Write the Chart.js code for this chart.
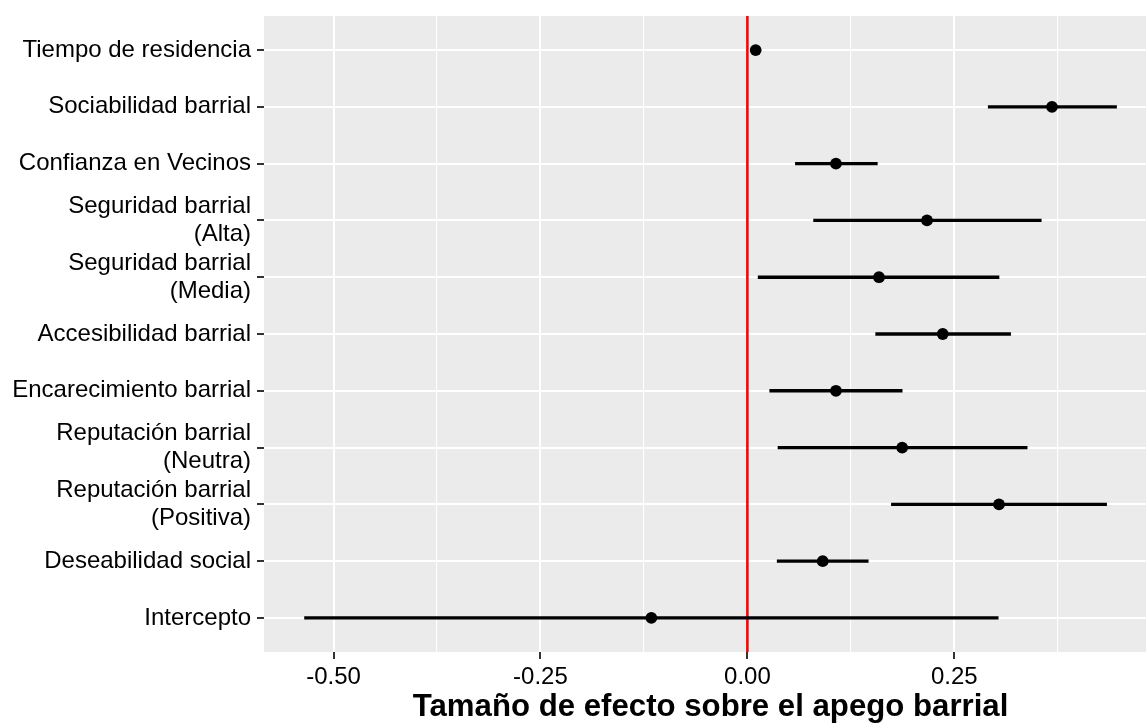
<!DOCTYPE html>
<html>
<head>
<meta charset="utf-8">
<title>Tamaño de efecto sobre el apego barrial</title>
<script src="https://cdn.jsdelivr.net/npm/chart.js@4/dist/chart.umd.min.js"></script>
<style>
  html, body { margin: 0; padding: 0; background: #fff; overflow: hidden; }
  #wrap { width: 1163px; height: 723px; position: relative; }
</style>
</head>
<body>
<div id="wrap"><canvas id="efectos"></canvas></div>
<script>
// Predictors, top to bottom
const categories = [
    ['Tiempo de residencia'],
    ['Sociabilidad barrial'],
    ['Confianza en Vecinos'],
    ['Seguridad barrial', '(Alta)'],
    ['Seguridad barrial', '(Media)'],
    ['Accesibilidad barrial'],
    ['Encarecimiento barrial'],
    ['Reputación barrial', '(Neutra)'],
    ['Reputación barrial', '(Positiva)'],
    ['Deseabilidad social'],
    ['Intercepto']
];

// Point estimates and confidence limits
const estimates = [0.010, 0.368, 0.107, 0.217, 0.159, 0.236, 0.107, 0.187, 0.304, 0.091, -0.116];
const ciLow     = [0.006, 0.291, 0.058, 0.080, 0.013, 0.155, 0.027, 0.037, 0.174, 0.036, -0.535];
const ciHigh    = [0.014, 0.446, 0.157, 0.355, 0.304, 0.318, 0.187, 0.338, 0.434, 0.146, 0.303];

// x axis breaks
const majorTicks = [-0.50, -0.25, 0.00, 0.25];
const minorTicks = [-0.375, -0.125, 0.125, 0.375];
const xMin = -0.584;
const xMax = 0.495;

const FONT = '"Liberation Sans", Arial, Helvetica, sans-serif';
const isMajor = v => majorTicks.some(m => Math.abs(m - v) < 1e-9);
const tickIsMajor = c => !!(c.tick && isMajor(c.tick.value));

// grey panel behind the grid
const panelBackground = {
    id: 'panelBackground',
    beforeDraw(chart) {
        const { ctx, chartArea: a } = chart;
        ctx.save();
        ctx.fillStyle = '#EBEBEB';
        ctx.fillRect(a.left, a.top, a.right - a.left, a.bottom - a.top);
        ctx.restore();
    }
};

// red reference line at zero
const zeroLine = {
    id: 'zeroLine',
    beforeDatasetsDraw(chart) {
        const { ctx, chartArea: a, scales } = chart;
        const x = scales.x.getPixelForValue(0);
        ctx.save();
        ctx.strokeStyle = '#FF0000';
        ctx.lineWidth = 2.6;
        ctx.beginPath();
        ctx.moveTo(x, a.top);
        ctx.lineTo(x, a.bottom);
        ctx.stroke();
        ctx.restore();
    }
};

const ctx = document.getElementById('efectos');
new Chart(ctx, {
    type: 'bar',
    data: {
        datasets: [
            {
                type: 'scatter',
                label: 'Estimación',
                data: estimates.map((v, i) => ({ x: v, y: i })),
                pointRadius: 5.9,
                pointHoverRadius: 5.9,
                backgroundColor: '#000',
                borderWidth: 0,
                order: 0
            },
            {
                type: 'bar',
                label: 'IC',
                indexAxis: 'y',
                data: estimates.map((v, i) => ({ y: i, x: [ciLow[i], ciHigh[i]] })),
                backgroundColor: '#000',
                borderWidth: 0,
                borderSkipped: false,
                barThickness: 2.7,
                order: 1
            }
        ]
    },
    options: {
        responsive: true,
        maintainAspectRatio: false,
        animation: false,
        layout: { padding: { top: 16, right: 0, left: 0, bottom: 0 } },
        plugins: {
            legend: { display: false },
            tooltip: { enabled: false },
            title: { display: false }
        },
        scales: {
            x: {
                type: 'linear',
                min: xMin,
                max: xMax,
                offset: false,
                afterBuildTicks: axis => {
                    axis.ticks = [...majorTicks, ...minorTicks]
                        .sort((a, b) => a - b)
                        .map(v => ({ value: v }));
                },
                afterFit: axis => {
                    axis.height = 71;
                    axis.paddingLeft = 0;
                    axis.paddingRight = 0;
                },
                border: { display: false },
                grid: {
                    offset: false,
                    color: '#FFFFFF',
                    lineWidth: c => (tickIsMajor(c) ? 2 : 1.1),
                    tickColor: c => (tickIsMajor(c) ? '#333333' : 'rgba(0,0,0,0)'),
                    tickLength: 7,
                    tickWidth: 2
                },
                ticks: {
                    autoSkip: false,
                    maxRotation: 0,
                    padding: 4,
                    color: '#000',
                    font: { family: FONT, size: 24 },
                    callback: v => (isMajor(v) ? v.toFixed(2) : '')
                },
                title: {
                    display: true,
                    text: 'Tamaño de efecto sobre el apego barrial',
                    color: '#000',
                    font: { family: FONT, size: 31.2, weight: 'bold', lineHeight: 1 },
                    padding: { top: 0, bottom: 0 }
                }
            },
            y: {
                type: 'linear',
                min: -0.6,
                max: 10.6,
                reverse: true,
                offset: false,
                afterBuildTicks: axis => {
                    axis.ticks = categories.map((c, i) => ({ value: i }));
                },
                afterFit: axis => {
                    axis.width = 264;
                    axis.paddingTop = 0;
                    axis.paddingBottom = 0;
                },
                border: { display: false },
                grid: {
                    offset: false,
                    color: '#FFFFFF',
                    lineWidth: 2,
                    tickColor: '#333333',
                    tickLength: 7,
                    tickWidth: 2
                },
                ticks: {
                    autoSkip: false,
                    padding: 6,
                    color: '#000',
                    font: { family: FONT, size: 24, lineHeight: 1.17 },
                    callback: v => categories[v]
                }
            }
        }
    },
    plugins: [panelBackground, zeroLine]
});
</script>
</body>
</html>
